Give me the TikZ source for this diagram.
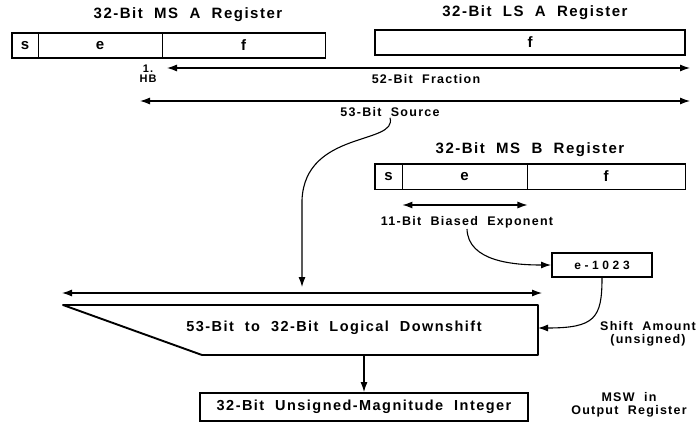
\documentclass[tikz,border=0pt]{standalone}
\usepackage{fontspec}
\setmainfont{Liberation Sans}[LetterSpace=10]
\usetikzlibrary{arrows.meta,positioning}
\newcommand{\fs}[1]{\fontsize{#1}{#1}\selectfont\bfseries}
\tikzset{
  reg/.style={draw, line width=0.9pt, minimum height=25pt, inner sep=0pt, font=\fs{15}},
  frame/.style={line width=1.9pt},
  lbl/.style={font=\fs{12.5}, inner sep=1pt},
  ttl/.style={font=\fs{15}, inner sep=1pt},
  dim/.style={line width=1.1pt, {Latex[length=10pt,width=7pt]}-{Latex[length=10pt,width=7pt]}},
  flow/.style={line width=1.1pt, -{Latex[length=10pt,width=7pt]}}
}
\begin{document}
\begin{tikzpicture}[x=1pt,y=-1pt]
\useasboundingbox (0,0) rectangle (700,425);
% MS A register
\node[ttl] (tA) at (188,15) {32-Bit\ \ MS\ \ A\ \ Register};
\node[reg, minimum width=26pt] (sA) at (25,45.5) {s};
\node[reg, minimum width=124pt, right=-0.9pt of sA] (eA) {e};
\node[reg, minimum width=163pt, right=-0.9pt of eA] (fA) {f};
\draw[frame] (sA.north west) rectangle (fA.south east);
% LS A register
\node[ttl] (tL) at (535,13) {32-Bit\ \ LS\ \ A\ \ Register};
\node[reg, frame, minimum width=310pt] (fL) at (530,42.5) {f};
% fraction and source
\node[lbl, align=center, font=\fs{11}, inner sep=0pt] (hb) at (148,74) {1.\\[-1pt]HB};
\coordinate (frL) at (167,68);
\coordinate (frR) at (690,68);
\draw[dim] (frL) -- (frR);
\node[lbl] (fr) at (426,79) {52-Bit\ \ Fraction};
\coordinate (srcL) at (140,101);
\coordinate (srcR) at (690,101);
\draw[dim] (srcL) -- (srcR);
\node[lbl] (src) at (390,112) {53-Bit\ \ Source};
% MS B register
\node[ttl] (tB) at (530,150) {32-Bit\ \ MS\ \ B\ \ Register};
\node[reg, minimum width=27pt] (sB) at (388.5,176.5) {s};
\node[reg, minimum width=125pt, right=-0.9pt of sB] (eB) {e};
\node[reg, minimum width=158pt, right=-0.9pt of eB] (fB) {f};
\draw[frame] (sB.north west) rectangle (fB.south east);
\draw[dim] (sB.east |- 0,205) -- (eB.east |- 0,205);
\node[lbl] (exl) at (467,222) {11-Bit\ \ Biased\ \ Exponent};
% bias removal
\node[reg, frame, minimum width=100pt, minimum height=24pt, font=\fs{12}\addfontfeature{LetterSpace=30}] (bias) at (602,265) {e-1023};
\draw[flow] (exl.south) .. controls (468,262) and (515,265) .. (bias.west);
% downshift
\coordinate (dsTL) at (63,305);
\coordinate (dsTR) at (538,305);
\coordinate (dsBR) at (538,355);
\coordinate (dsBL) at (202,355);
\draw[frame, line join=round] (dsTL) -- (dsTR) -- (dsBR) -- (dsBL) -- cycle;
\node[ttl, font=\fs{14.5}] (ds) at (334,328) {53-Bit\ \ to\ \ 32-Bit\ \ Logical\ \ Downshift};
\coordinate (wL) at (62,293);
\coordinate (wR) at (542,293);
\draw[dim] (wL) -- (wR);
\coordinate (srcIn) at (302,287);
\draw[flow] (src.south) .. controls (398,145) and (305,130) .. (302,200) -- (srcIn);
\coordinate (dsIn) at (538,328);
\draw[flow] (bias.south) .. controls (602,318) and (595,328) .. (dsIn);
\node[lbl, align=center] (amt) at (648,334) {Shift\ \ Amount\\(unsigned)};
% output
\node[reg, frame, minimum width=328pt, minimum height=28pt, font=\fs{14.5}] (out) at (364,407) {32-Bit\ \ Unsigned-Magnitude\ \ Integer};
\draw[flow] (out.north |- dsBR) -- (out.north);
\node[lbl, align=center] (msw) at (629,405) {MSW\ \ in\\Output\ \ Register};
\end{tikzpicture}
\end{document}
